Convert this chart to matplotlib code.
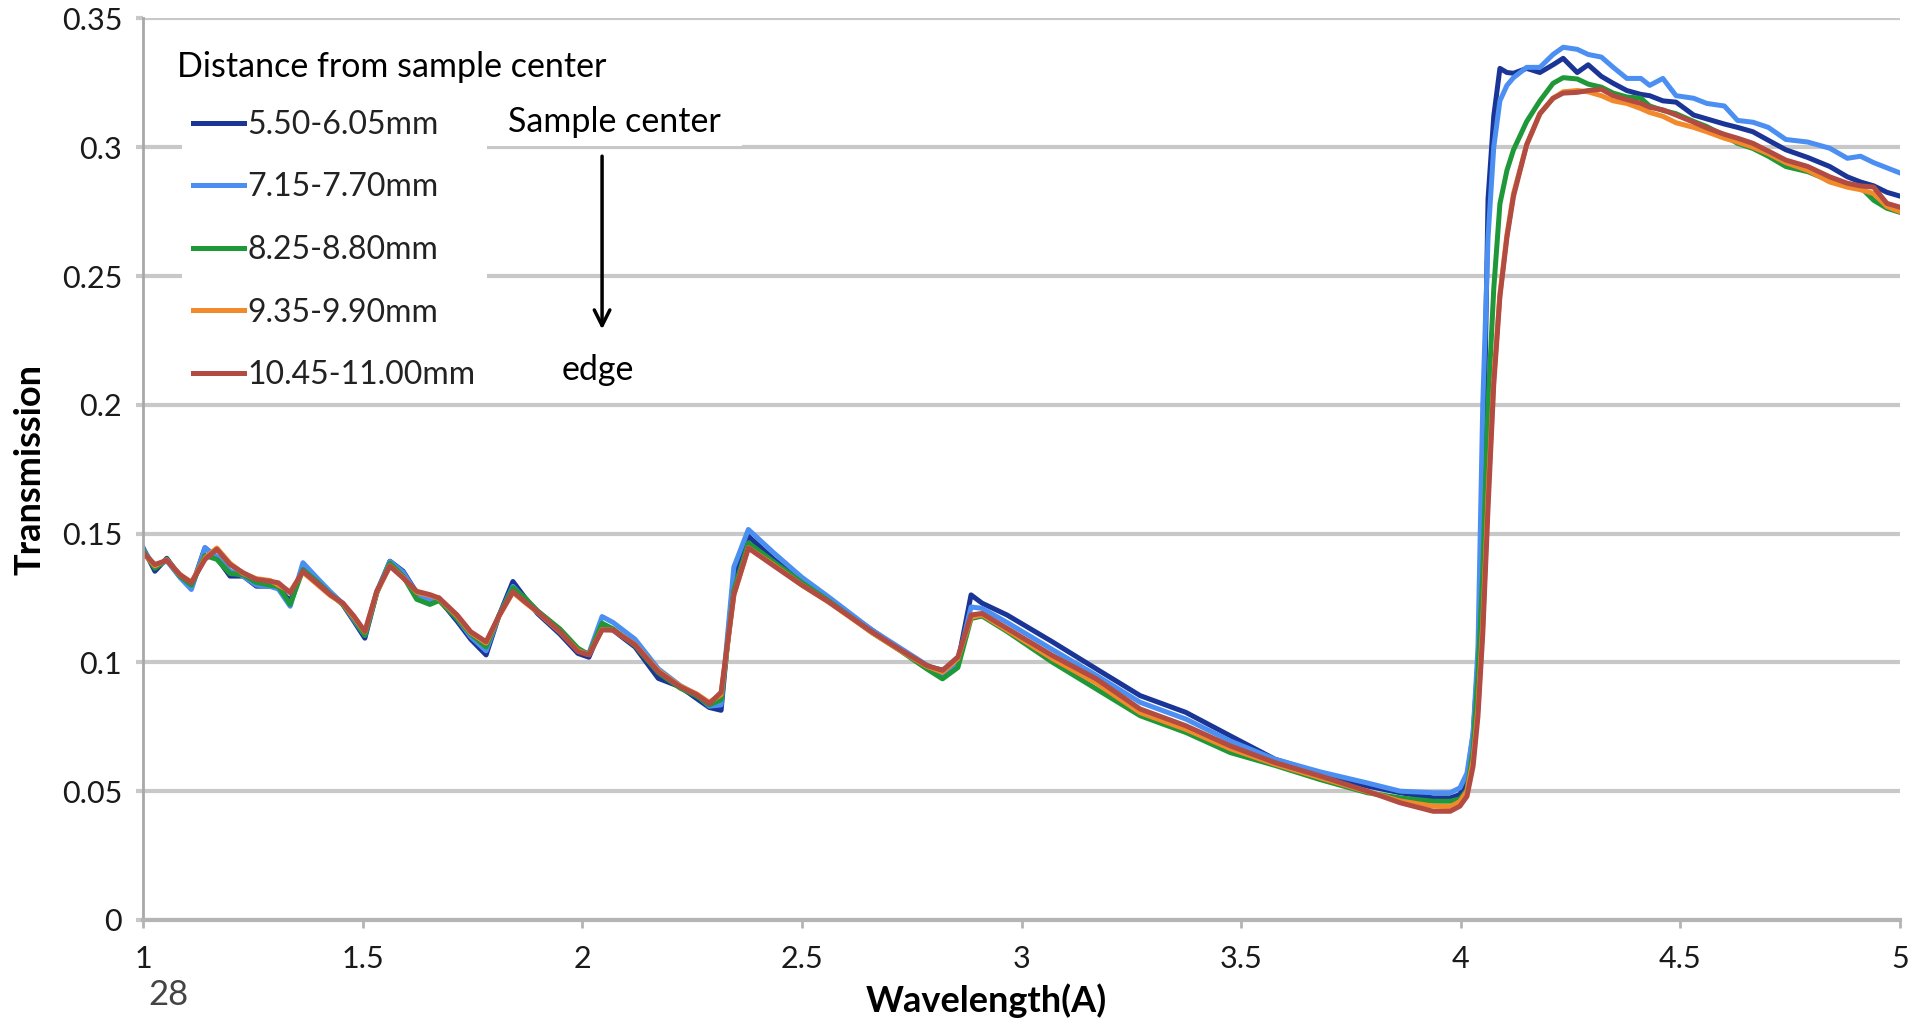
import matplotlib
matplotlib.use("Agg")
import matplotlib.pyplot as plt

# wavelength grid (A) shared by all five curves
wavelength = [
    1.00, 1.027, 1.054, 1.084, 1.11, 1.141, 1.168, 1.198, 1.228, 1.258,
    1.289, 1.308, 1.335, 1.364, 1.395, 1.426, 1.455, 1.48, 1.505, 1.532,
    1.562, 1.592, 1.623, 1.653, 1.674, 1.715, 1.746, 1.781, 1.81, 1.842,
    1.87, 1.898, 1.949, 1.99, 2.015, 2.045, 2.07, 2.12, 2.173, 2.223,
    2.26, 2.289, 2.316, 2.345, 2.378, 2.436, 2.50, 2.56, 2.66, 2.72,
    2.784, 2.82, 2.855, 2.885, 2.91, 2.967, 3.07, 3.17, 3.27, 3.374,
    3.475, 3.577, 3.68, 3.787, 3.862, 3.937, 3.976, 3.998, 4.014, 4.028,
    4.039, 4.05, 4.062, 4.075, 4.089, 4.105, 4.12, 4.15, 4.18, 4.21,
    4.233, 4.265, 4.29, 4.32, 4.347, 4.378, 4.41, 4.43, 4.46, 4.49,
    4.53, 4.56, 4.60, 4.63, 4.665, 4.70, 4.74, 4.79, 4.84, 4.88,
    4.91, 4.94, 4.97, 5.00,
]

t_550 = [
    0.1445, 0.1354, 0.1404, 0.1335, 0.129, 0.1445, 0.1406, 0.1335, 0.1335, 0.1296,
    0.1296, 0.129, 0.1237, 0.1367, 0.1322, 0.127, 0.1224, 0.116, 0.1094, 0.127,
    0.1393, 0.1354, 0.127, 0.1243, 0.1245, 0.116, 0.109, 0.1029, 0.118, 0.1314,
    0.125, 0.119, 0.111, 0.1035, 0.102, 0.114, 0.1125, 0.106, 0.0938, 0.0905,
    0.086, 0.0825, 0.0814, 0.134, 0.149, 0.140, 0.1315, 0.1245, 0.1125, 0.1055,
    0.0985, 0.097, 0.100, 0.1262, 0.123, 0.1184, 0.108, 0.0975, 0.0871, 0.0806,
    0.0715, 0.0624, 0.057, 0.052, 0.0494, 0.0474, 0.0474, 0.0487, 0.055, 0.072,
    0.100, 0.160, 0.280, 0.312, 0.3306, 0.329, 0.3287, 0.3306, 0.329, 0.332,
    0.3345, 0.329, 0.332, 0.3275, 0.3248, 0.322, 0.3205, 0.320, 0.318, 0.3175,
    0.3125, 0.311, 0.309, 0.3077, 0.306, 0.3027, 0.299, 0.296, 0.2925, 0.2885,
    0.2865, 0.285, 0.2825, 0.281,
]

t_715 = [
    0.144, 0.137, 0.1395, 0.133, 0.1283, 0.1445, 0.141, 0.1355, 0.1335, 0.130,
    0.1295, 0.1285, 0.1218, 0.1387, 0.133, 0.1275, 0.1228, 0.1165, 0.1105, 0.1275,
    0.1392, 0.135, 0.1265, 0.124, 0.125, 0.117, 0.110, 0.1045, 0.118, 0.1295,
    0.1245, 0.120, 0.1125, 0.1045, 0.1035, 0.1178, 0.1155, 0.109, 0.0975, 0.091,
    0.0875, 0.083, 0.0835, 0.137, 0.1516, 0.1425, 0.133, 0.1255, 0.1125, 0.106,
    0.099, 0.0955, 0.100, 0.1215, 0.121, 0.1155, 0.105, 0.095, 0.0845, 0.078,
    0.0695, 0.0624, 0.0575, 0.0532, 0.050, 0.0494, 0.0494, 0.0513, 0.057, 0.0726,
    0.105, 0.200, 0.265, 0.300, 0.318, 0.324, 0.327, 0.331, 0.331, 0.336,
    0.3388, 0.338, 0.336, 0.335, 0.331, 0.3267, 0.3267, 0.324, 0.3267, 0.320,
    0.319, 0.317, 0.316, 0.3104, 0.3097, 0.3077, 0.303, 0.302, 0.2996, 0.2957,
    0.2965, 0.294, 0.292, 0.290,
]

t_825 = [
    0.1435, 0.1365, 0.140, 0.1335, 0.130, 0.1415, 0.140, 0.1345, 0.134, 0.131,
    0.130, 0.1295, 0.1225, 0.136, 0.1315, 0.1265, 0.1225, 0.117, 0.1105, 0.127,
    0.1385, 0.1335, 0.1245, 0.1225, 0.124, 0.117, 0.111, 0.106, 0.118, 0.129,
    0.125, 0.120, 0.113, 0.1055, 0.103, 0.1152, 0.113, 0.1065, 0.096, 0.090,
    0.087, 0.0835, 0.0855, 0.128, 0.1464, 0.139, 0.131, 0.124, 0.1115, 0.105,
    0.0975, 0.0936, 0.098, 0.117, 0.118, 0.112, 0.1001, 0.0897, 0.0793, 0.0728,
    0.065, 0.060, 0.0545, 0.0494, 0.0474, 0.0461, 0.0461, 0.047, 0.0505, 0.066,
    0.095, 0.135, 0.200, 0.245, 0.278, 0.291, 0.299, 0.310, 0.318, 0.3248,
    0.327, 0.3265, 0.3245, 0.3233, 0.321, 0.3195, 0.319, 0.316, 0.3143, 0.313,
    0.310, 0.308, 0.3045, 0.3015, 0.2995, 0.2965, 0.2925, 0.2905, 0.287, 0.285,
    0.2845, 0.2794, 0.2763, 0.2747,
]

t_935 = [
    0.1425, 0.1375, 0.1398, 0.134, 0.1312, 0.1405, 0.1444, 0.1385, 0.1345, 0.1325,
    0.1318, 0.130, 0.1275, 0.135, 0.1305, 0.126, 0.1228, 0.1175, 0.1118, 0.1272,
    0.1375, 0.133, 0.1272, 0.126, 0.1248, 0.118, 0.1115, 0.1075, 0.1178, 0.1272,
    0.1232, 0.1195, 0.1118, 0.1045, 0.103, 0.1128, 0.1125, 0.107, 0.0968, 0.0908,
    0.0878, 0.0845, 0.0875, 0.1262, 0.1445, 0.1378, 0.130, 0.1235, 0.1115, 0.105,
    0.0985, 0.0962, 0.1015, 0.1175, 0.1185, 0.1125, 0.1015, 0.092, 0.0805, 0.074,
    0.0665, 0.0605, 0.0552, 0.0498, 0.0462, 0.0442, 0.044, 0.046, 0.050, 0.062,
    0.082, 0.115, 0.165, 0.210, 0.243, 0.266, 0.282, 0.301, 0.313, 0.319,
    0.3215, 0.322, 0.3215, 0.320, 0.318, 0.317, 0.315, 0.3135, 0.312, 0.3095,
    0.3077, 0.306, 0.3035, 0.302, 0.300, 0.2975, 0.294, 0.291, 0.2865, 0.2845,
    0.2835, 0.282, 0.277, 0.275,
]

t_1045 = [
    0.1426, 0.138, 0.1396, 0.1341, 0.1309, 0.140, 0.1439, 0.138, 0.1348, 0.1322,
    0.1315, 0.1309, 0.127, 0.1354, 0.1309, 0.1263, 0.123, 0.118, 0.112, 0.1276,
    0.1374, 0.1328, 0.1276, 0.1263, 0.125, 0.1184, 0.1119, 0.108, 0.118, 0.1275,
    0.1235, 0.1197, 0.112, 0.1042, 0.1029, 0.1126, 0.1126, 0.1068, 0.0964, 0.0905,
    0.0875, 0.084, 0.0884, 0.1262, 0.1444, 0.1375, 0.130, 0.1236, 0.1118, 0.1053,
    0.0988, 0.0969, 0.1021, 0.1184, 0.119, 0.1132, 0.1027, 0.0936, 0.0819, 0.0754,
    0.0676, 0.0611, 0.0559, 0.050, 0.0455, 0.0422, 0.0422, 0.0442, 0.048, 0.0597,
    0.079, 0.111, 0.160, 0.208, 0.242, 0.265, 0.281, 0.301, 0.313, 0.319,
    0.321, 0.3213, 0.322, 0.3225, 0.320, 0.3185, 0.317, 0.3155, 0.3145, 0.3125,
    0.3097, 0.3075, 0.305, 0.3035, 0.3015, 0.2985, 0.295, 0.2925, 0.2885, 0.286,
    0.285, 0.2845, 0.2782, 0.2767,
]

labels = ["5.50-6.05mm", "7.15-7.70mm", "8.25-8.80mm", "9.35-9.90mm", "10.45-11.00mm"]
colors = ["#1a3596", "#4c8ff2", "#1e9838", "#f2892a", "#b24c42"]
series = [t_550, t_715, t_825, t_935, t_1045]

y_ticks = [0, 0.05, 0.1, 0.15, 0.2, 0.25, 0.3, 0.35]
y_tick_labels = ["0", "0.05", "0.1", "0.15", "0.2", "0.25", "0.3", "0.35"]
x_ticks = [1, 1.5, 2, 2.5, 3, 3.5, 4, 4.5, 5]
x_tick_labels = ["1", "1.5", "2", "2.5", "3", "3.5", "4", "4.5", "5"]

font = ["Lato", "DejaVu Sans"]

fig = plt.figure(figsize=(19.15, 10.23), dpi=100)
ax = fig.add_axes([0.0747, 0.1007, 0.9175, 0.8813])

for vals, lab, col in zip(series, labels, colors):
    ax.plot(wavelength, vals, color=col, lw=3.6, label=lab, solid_joinstyle="round")

ax.set_xlim(1, 5)
ax.set_ylim(0, 0.35)
ax.set_yticks(y_ticks)
ax.set_yticklabels(y_tick_labels, fontfamily=font, fontsize=22, color="#1a1a1a")
ax.set_xticks(x_ticks)
ax.set_xticklabels(x_tick_labels, fontfamily=font, fontsize=22, color="#1a1a1a")
ax.grid(axis="y", color="#c8c8c8", lw=3)
ax.set_axisbelow(True)
for s in ["top", "right"]:
    ax.spines[s].set_visible(False)
ax.spines["left"].set_color("#a8a8a8")
ax.spines["left"].set_linewidth(2)
ax.spines["bottom"].set_color("#b4b4b4")
ax.spines["bottom"].set_linewidth(3)
ax.tick_params(axis="y", length=5, width=3, color="#c8c8c8", pad=10)
ax.tick_params(axis="x", length=6, width=2, color="#b4b4b4", pad=12)

ax.set_ylabel("Transmission", fontfamily=font, fontweight="bold", fontsize=26)
ax.yaxis.set_label_coords(-0.055, 0.5)
ax.set_xlabel("Wavelength(A)", fontfamily=font, fontweight="bold", fontsize=26)
ax.xaxis.set_label_coords(0.48, -0.07)

leg = ax.legend(loc="upper left", bbox_to_anchor=(0.0222, 0.911), borderaxespad=0,
                frameon=True, fancybox=False, framealpha=1, edgecolor="none",
                facecolor="white", handlelength=1.6, handletextpad=0.1,
                labelspacing=1.02, borderpad=0.35,
                prop={"family": font, "size": 23})
for t in leg.get_texts():
    t.set_color("#222222")

ax.text(1.077, 0.3312, "Distance from sample center", fontfamily=font, fontsize=24.5,
        va="center", ha="left")
ax.text(2.072, 0.3097, "Sample center", fontfamily=font, fontsize=24.5,
        va="center", ha="center",
        bbox=dict(boxstyle="square,pad=0.65", fc="white", ec="none", mutation_aspect=0.35))
ax.text(2.036, 0.2134, "edge", fontfamily=font, fontsize=24.5,
        va="center", ha="center",
        bbox=dict(boxstyle="square,pad=1.0", fc="white", ec="none", mutation_aspect=0.38))
ax.annotate("", xy=(2.045, 0.2282), xytext=(2.045, 0.2976),
            arrowprops=dict(arrowstyle="->", color="black", lw=2.5, mutation_scale=28))

fig.text(0.088, 0.027, "28", fontsize=25, color="#444444", ha="center", va="center",
         fontfamily=font)

fig.savefig("out.png", dpi=100)
